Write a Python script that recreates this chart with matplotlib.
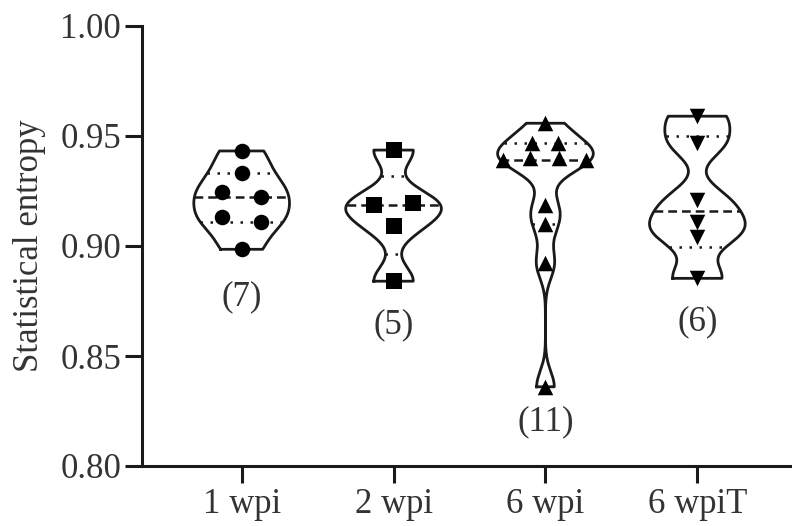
import numpy as np
import matplotlib
matplotlib.use("Agg")
import matplotlib.pyplot as plt

plt.rcParams['font.family'] = ['Liberation Serif', 'DejaVu Serif']

# data
groups = ["1 wpi", "2 wpi", "6 wpi", "6 wpiT"]
wpi1 = [0.9432, 0.9330, 0.9247, 0.9221, 0.9130, 0.9111, 0.8985]
wpi2 = [0.9436, 0.9197, 0.9186, 0.9091, 0.8840]
wpi6 = [0.9558, 0.9470, 0.9470, 0.9398, 0.9398, 0.9390, 0.9390, 0.9186, 0.9100, 0.8921, 0.8360]
wpi6T = [0.9590, 0.9467, 0.9209, 0.9110, 0.9042, 0.8853]
series = [wpi1, wpi2, wpi6, wpi6T]

# horizontal spread of the points inside each violin (layout only)
spread = [
    [0, 0, -0.13, 0.13, -0.13, 0.13, 0],
    [0, 0.13, -0.13, 0, 0],
    [0, -0.09, 0.08, -0.10, 0.09, -0.28, 0.27, 0, 0, 0, 0],
    [0, 0, 0, 0, 0, 0],
]
markers = ["o", "s", "^", "v"]
count_y = [0.8768, 0.8640, 0.8200, 0.8655]

bw = 0.0070
half_width = 0.315
ink = "#1a1a1a"


def kde(vals, y):
    vals = np.asarray(vals)
    d = (y[:, None] - vals[None, :]) / bw
    return np.exp(-0.5 * d ** 2).sum(axis=1)


fig = plt.figure(figsize=(7.92, 5.26), dpi=100)
ax = fig.add_axes([142 / 792, 60 / 526, 655 / 792, 440 / 526])

for i, vals in enumerate(series):
    pos = i + 1
    lo, hi = min(vals), max(vals)
    ys = np.linspace(lo, hi, 300)
    dens = kde(vals, ys)
    scale = half_width / dens.max()
    w = dens * scale
    xs = np.concatenate([pos - w, (pos + w)[::-1], [pos - w[0]]])
    yy = np.concatenate([ys, ys[::-1], [ys[0]]])
    ax.plot(xs, yy, color=ink, lw=2.0, zorder=2, solid_joinstyle="round")

    q1, med, q3 = np.percentile(vals, [25, 50, 75], method="weibull")
    for q, ls in [(q1, (0, (1, 3))), (q3, (0, (1, 3))), (med, (0, (3.5, 2)))]:
        wq = kde(vals, np.array([q]))[0] * scale
        ax.plot([pos - wq, pos + wq], [q, q], color=ink, lw=1.8,
                linestyle=ls, zorder=2)

    ax.scatter(pos + np.array(spread[i]), vals, marker=markers[i], s=125,
               color="black", zorder=3, linewidths=0)
    ax.text(pos, count_y[i], f"({len(vals)})", ha="center", va="center",
            fontsize=25, color="#333333")

ax.set_xlim(0.344, 4.656)
ax.set_ylim(0.80, 1.00)
ax.set_xticks(range(1, 5))
ax.set_xticklabels(groups)
ax.set_yticks([0.80, 0.85, 0.90, 0.95, 1.00])
ax.set_yticklabels(["0.80", "0.85", "0.90", "0.95", "1.00"])
ax.set_ylabel("Statistical entropy", fontsize=25, color="#333333")
ax.yaxis.set_label_coords(-0.146, 0.5)
ax.tick_params(labelsize=25, width=2.2, length=12, color=ink, labelcolor="#333333")
ax.tick_params(axis="y", pad=3)
ax.tick_params(axis="x", pad=4)
for side in ["top", "right"]:
    ax.spines[side].set_visible(False)
for side in ["left", "bottom"]:
    ax.spines[side].set_linewidth(2.2)
    ax.spines[side].set_color(ink)

fig.savefig("out.png", dpi=100)
